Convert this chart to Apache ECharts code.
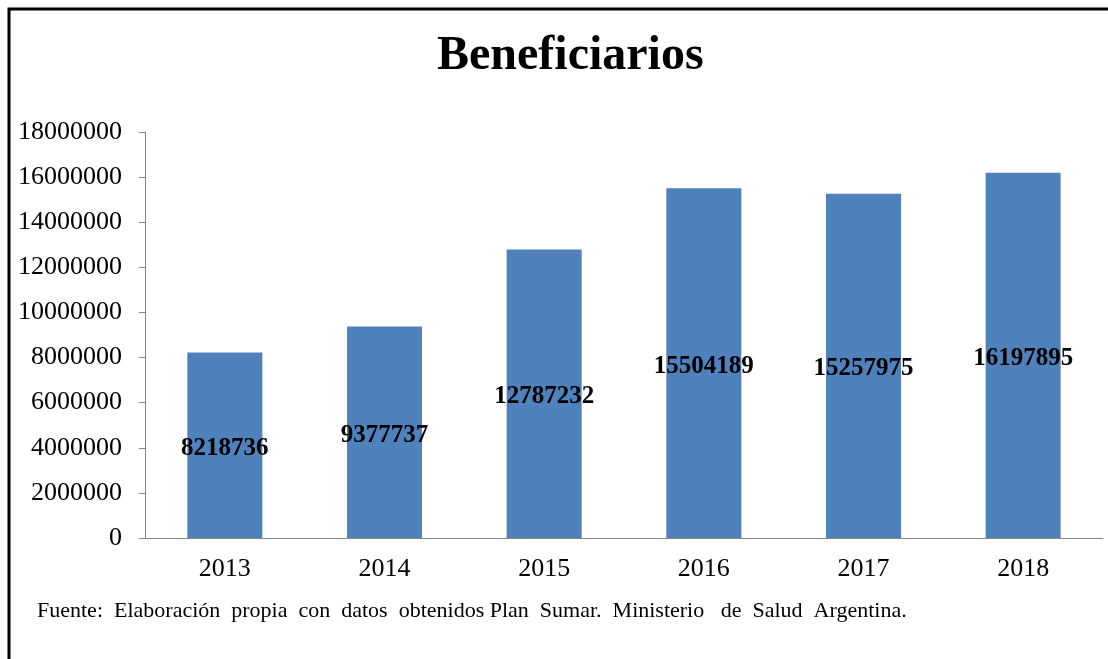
<!DOCTYPE html>
<html>
<head>
<meta charset="utf-8">
<script src="https://cdn.jsdelivr.net/npm/echarts@6/dist/echarts.min.js"></script>
<style>
  html, body { margin: 0; padding: 0; background: #fff; }
  #chart { width: 1108px; height: 659px; }
</style>
</head>
<body>
<div id="chart"></div>
<script>
const years = ['2013', '2014', '2015', '2016', '2017', '2018']
const beneficiarios = [8218736, 9377737, 12787232, 15504189, 15257975, 16197895]
const yTicks = { min: 0, max: 18000000, interval: 2000000 }
const titleText = 'Beneficiarios'
const sourceText = 'Fuente:  Elaboración  propia  con  datos  obtenidos Plan  Sumar.  Ministerio   de  Salud  Argentina.'

const serif = '"Liberation Serif", "DejaVu Serif", serif'

const option = {
  animation: false,
  title: {
    text: titleText,
    left: 432,
    top: 28,
    textStyle: {
      fontFamily: serif,
      fontWeight: 'bold',
      fontSize: 48,
      color: '#000'
    }
  },
  grid: {
    left: 145,
    right: 5,
    top: 132,
    bottom: 121
  },
  xAxis: {
    type: 'category',
    data: years,
    axisLine: { lineStyle: { color: '#868686', width: 1 } },
    axisTick: { show: false },
    axisLabel: {
      margin: 18,
      fontFamily: serif,
      fontSize: 26,
      color: '#000'
    }
  },
  yAxis: {
    type: 'value',
    min: yTicks.min,
    max: yTicks.max,
    interval: yTicks.interval,
    axisLine: { show: true, lineStyle: { color: '#868686', width: 1 } },
    axisTick: { show: true, length: 6, lineStyle: { color: '#868686' } },
    splitLine: { show: false },
    axisLabel: {
      margin: 23,
      fontFamily: serif,
      fontSize: 26,
      color: '#000',
      formatter: function (v) { return String(v) }
    }
  },
  series: [
    {
      name: titleText,
      type: 'bar',
      data: beneficiarios,
      barWidth: 75,
      itemStyle: { color: '#4F81BD' },
      label: {
        show: true,
        position: 'inside',
        offset: [0, 3],
        fontFamily: serif,
        fontWeight: 'bold',
        fontSize: 25,
        color: '#000'
      }
    }
  ],
  graphic: [
    {
      type: 'polyline',
      shape: { points: [[9, 659], [9, 9], [1108, 9]] },
      style: { stroke: '#000', lineWidth: 3, fill: null }
    },
    {
      type: 'text',
      left: 37,
      top: 600,
      style: {
        text: sourceText,
        fontFamily: serif,
        fontSize: 22,
        fill: '#000'
      }
    }
  ]
}

const myChart = echarts.init(document.getElementById('chart'), null, { renderer: 'canvas' })
myChart.setOption(option)
</script>
</body>
</html>
